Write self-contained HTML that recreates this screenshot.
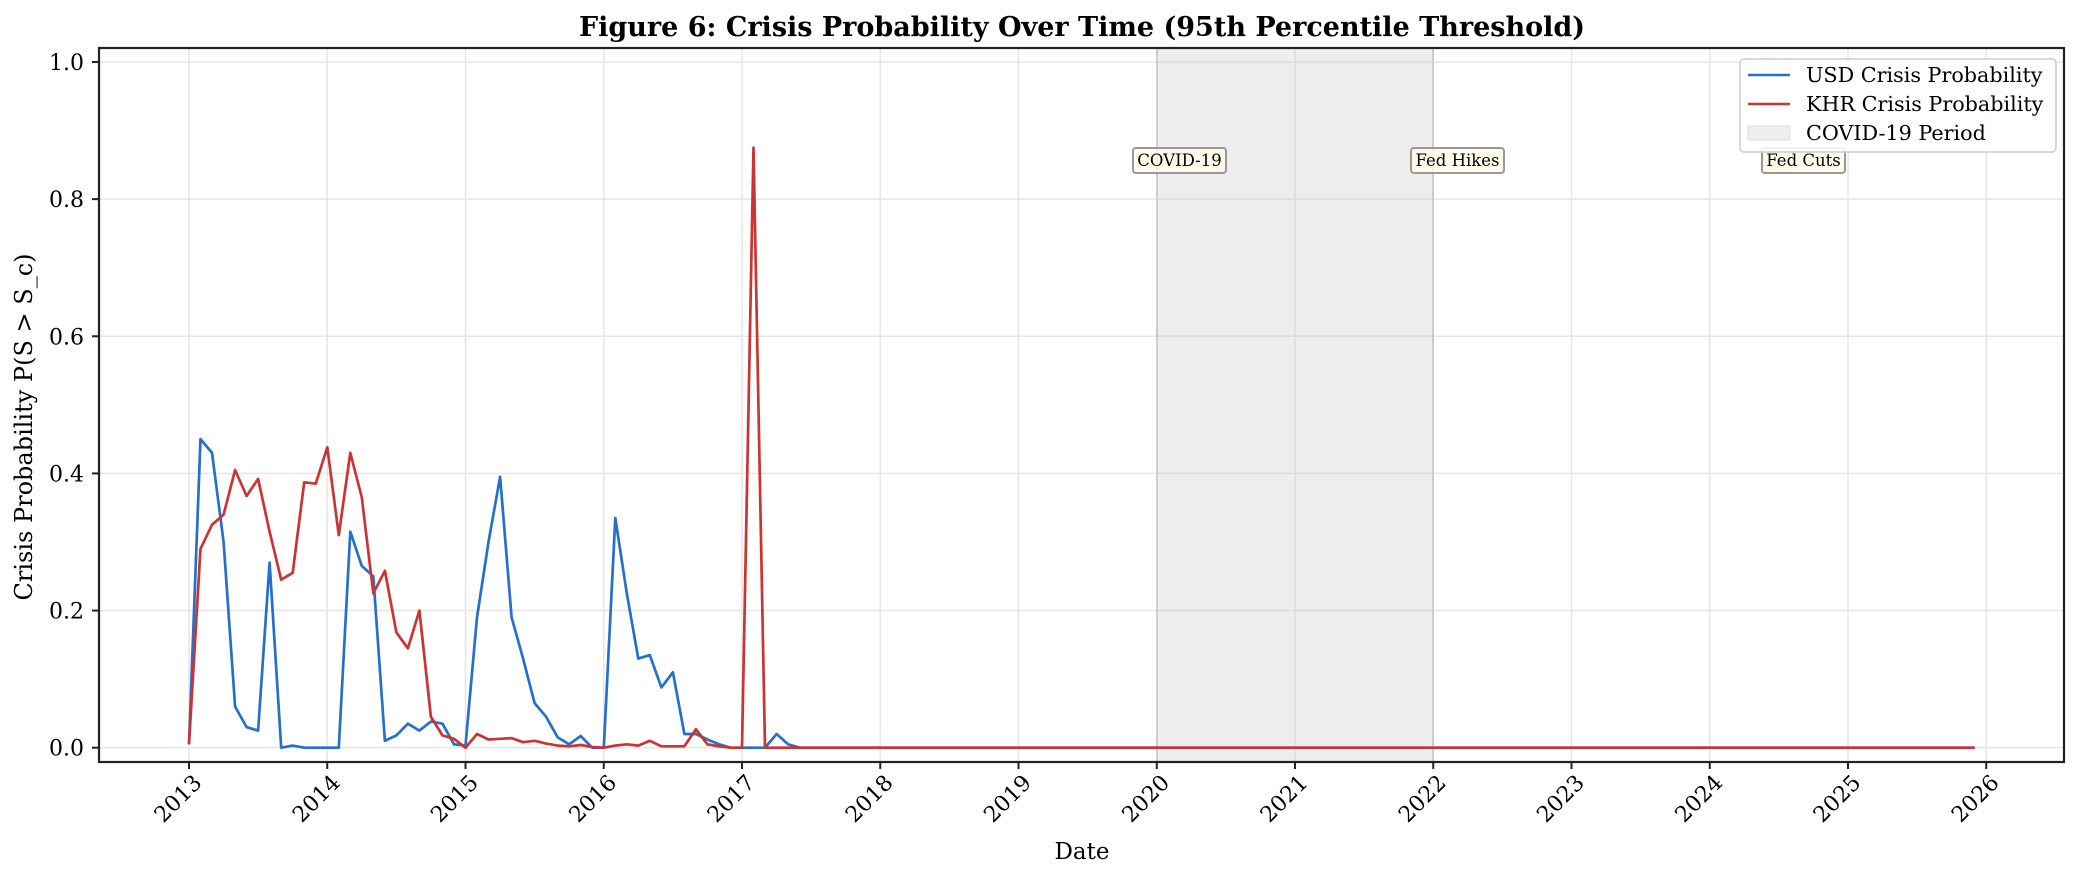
<!DOCTYPE html>
<html><head><meta charset="utf-8"><style>body{margin:0;background:#fff}svg{display:block;font-family:"DejaVu Serif","Liberation Serif",serif}</style></head>
<body>
<svg id="s" width="2080" height="880" viewBox="0 0 2080 880" xmlns="http://www.w3.org/2000/svg">
<rect width="2080" height="880" fill="#fff"/>
<g id="grid"></g>
<rect x="1157" y="48" width="276" height="714" fill="#bdbdbd" fill-opacity="0.25" stroke="#bdbdbd" stroke-opacity="0.6" stroke-width="2"/>
<g id="lines"></g>
<rect x="99" y="48" width="1965" height="714" fill="none" stroke="#222" stroke-width="2.2"/>
<g id="ticks"></g>
<text x="1082" y="36" font-size="27" font-weight="bold" text-anchor="middle">Figure 6: Crisis Probability Over Time (95th Percentile Threshold)</text>
<text x="1082" y="859" font-size="23" text-anchor="middle">Date</text>
<text transform="translate(32,427) rotate(-90)" font-size="24" text-anchor="middle">Crisis Probability P(S &gt; S_c)</text>
<g font-size="16.5">
<rect x="1133" y="148" width="93" height="25" rx="3" fill="#fffbe6" fill-opacity="0.8" stroke="#999" stroke-width="2"/>
<text x="1179.5" y="166" text-anchor="middle">COVID-19</text>
<rect x="1411" y="148" width="93" height="25" rx="3" fill="#fffbe6" fill-opacity="0.8" stroke="#999" stroke-width="2"/>
<text x="1457.5" y="166" text-anchor="middle">Fed Hikes</text>
<rect x="1762" y="148" width="83" height="25" rx="3" fill="#fffbe6" fill-opacity="0.8" stroke="#999" stroke-width="2"/>
<text x="1803.5" y="166" text-anchor="middle">Fed Cuts</text>
</g>
<g transform="translate(-9,0)">
<rect x="1749" y="59" width="316" height="93" rx="4" fill="#fff" fill-opacity="0.85" stroke="#ccc" stroke-width="1.5"/>
<line x1="1757" y1="75" x2="1799" y2="75" stroke="#2670c9" stroke-width="2.5"/>
<line x1="1757" y1="104" x2="1799" y2="104" stroke="#cc3333" stroke-width="2.5"/>
<rect x="1757" y="126" width="42" height="14" fill="#efefef" stroke="#ddd"/>
<text x="1815" y="82" font-size="20.7">USD Crisis Probability</text>
<text x="1815" y="111" font-size="20.7">KHR Crisis Probability</text>
<text x="1815" y="140" font-size="20.7">COVID-19 Period</text>
</g>
</svg>
<script>
var NS="http://www.w3.org/2000/svg";
function X(y){return 189+(y-2013)*138.25}
function Y(v){return 747.7-685.7*v}
function el(p,t,a,txt){var e=document.createElementNS(NS,t);for(var k in a)e.setAttribute(k,a[k]);if(txt)e.textContent=txt;document.getElementById(p).appendChild(e);return e}
for(var y=2013;y<=2026;y++){var x=X(y);el("grid","line",{x1:x,y1:48,x2:x,y2:762,stroke:"#e6e6e6","stroke-width":1.5});
el("ticks","line",{x1:x,y1:762,x2:x,y2:769,stroke:"#222","stroke-width":2});
el("ticks","text",{transform:"translate("+(x+14)+",784) rotate(-45)","font-size":22,"text-anchor":"end"},String(y));}
for(var i=0;i<=5;i++){var v=i*0.2,yy=Y(v);el("grid","line",{x1:99,y1:yy,x2:2064,y2:yy,stroke:"#e6e6e6","stroke-width":1.5});
el("ticks","line",{x1:92,y1:yy,x2:99,y2:yy,stroke:"#222","stroke-width":2});
el("ticks","text",{x:84,y:yy+8,"font-size":22,"text-anchor":"end"},v.toFixed(1));}
var usd=[.005,.45,.43,.30,.06,.03,.025,.27,0,.003,0,0, 0,0,.315,.265,.25,.01,.018,.035,.025,.038,.035,.005, .003,.19,.30,.395,.19,.13,.065,.045,.015,.005,.017,0, 0,.335,.225,.13,.135,.088,.11,.02,.02,.012,.005,0, 0,0,0,.02,.005,0];
var khr=[.005,.29,.325,.34,.405,.367,.392,.315,.245,.255,.387,.385, .438,.31,.43,.365,.225,.258,.168,.145,.2,.045,.018,.013, 0,.02,.012,.013,.014,.008,.01,.006,.003,.002,.004,.001, 0,.003,.005,.003,.01,.002,.002,.002,.027,.005,.002,0, 0,.875,0,0,0];
var N=13*12;
function pts(a){var s=[];for(var m=0;m<N;m++){var v=m<a.length?a[m]:0;s.push((X(2013)+m*138.25/12).toFixed(1)+","+Y(v).toFixed(1))}return s.join(" ")}
el("lines","polyline",{points:pts(usd),fill:"none",stroke:"#2670c9","stroke-width":2.7,"stroke-linejoin":"round"});
el("lines","polyline",{points:pts(khr),fill:"none",stroke:"#cc3333","stroke-width":2.7,"stroke-linejoin":"round"});
</script>
</body></html>
